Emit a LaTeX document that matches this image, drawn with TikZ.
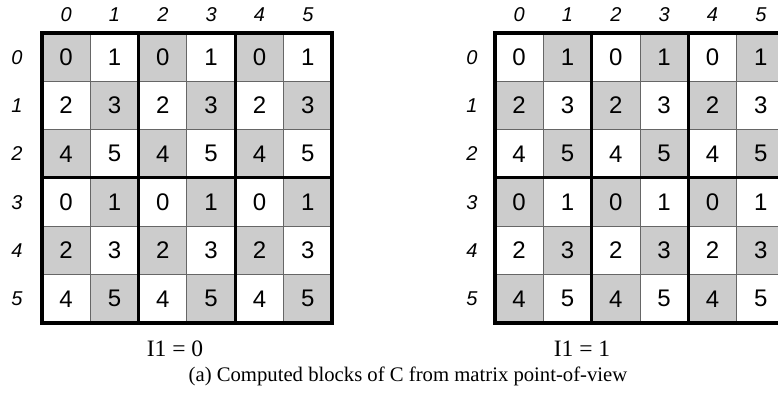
\documentclass[tikz,border=0pt]{standalone}
\usepackage{fontspec}
\setmainfont{Liberation Serif}
\newfontfamily\arialf{Liberation Sans}
\definecolor{cellgray}{HTML}{CCCCCC}
\definecolor{linegray}{HTML}{666666}
\begin{document}
\begin{tikzpicture}[x=1pt,y=-1pt,
  cellnum/.style={font=\arialf\fontsize{24}{24}\selectfont, inner sep=0pt},
  idxlab/.style={font=\arialf\itshape\fontsize{20}{20}\selectfont, inner sep=0pt},
  sublab/.style={font=\fontsize{23.5}{23.5}\selectfont, inner sep=0pt},
  captext/.style={font=\fontsize{20.7}{20.7}\selectfont, inner sep=0pt},
  thinline/.style={draw=linegray, line width=1pt},
  thickline/.style={draw=black, line width=3pt},
  outerline/.style={draw=black, line width=4pt}]
\useasboundingbox (0,0) rectangle (778,402);
\def\cw{48.33}
\foreach \gx/\pty/\pre/\rl in {42/0/L/17, 495/1/R/472} {
  \foreach \r in {0,...,5} {
    \foreach \c in {0,...,5} {
      \pgfmathtruncatemacro{\shade}{mod(\r+\c+\pty,2)==0 ? 1 : 0}
      \pgfmathtruncatemacro{\val}{2*mod(\r,3)+mod(\c,2)}
      \ifnum\shade=1
        \fill[cellgray] (\gx+\c*\cw,33+\r*\cw) rectangle ++(\cw,\cw);
      \fi
      \node[cellnum] (\pre c\r\c) at (\gx+\c*\cw+\cw/2,33+\r*\cw+\cw/2) {\val};
    }
  }
  \foreach \i in {1,...,5} {
    \draw[thinline] (\gx+\i*\cw,33) -- (\gx+\i*\cw,33+6*\cw);
    \draw[thinline] (\gx,33+\i*\cw) -- (\gx+6*\cw,33+\i*\cw);
  }
  \draw[thickline] (\gx+2*\cw,33) -- (\gx+2*\cw,33+6*\cw);
  \draw[thickline] (\gx+4*\cw,33) -- (\gx+4*\cw,33+6*\cw);
  \draw[thickline] (\gx,33+3*\cw) -- (\gx+6*\cw,33+3*\cw);
  \draw[outerline] (\gx,33) rectangle (\gx+6*\cw,33+6*\cw);
  \foreach \i in {0,...,5} {
    \node[idxlab] (\pre col\i) at (\gx+\i*\cw+\cw/2,15) {\i};
    \node[idxlab] (\pre row\i) at (\rl,33+\i*\cw+\cw/2) {\i};
  }
}
\node[sublab] (capL) at (175,349) {I1 = 0};
\node[sublab] (capR) at (582,349) {I1 = 1};
\node[captext] (cap) at (408,376) {(a) Computed blocks of C from matrix point-of-view};
\end{tikzpicture}
\end{document}
